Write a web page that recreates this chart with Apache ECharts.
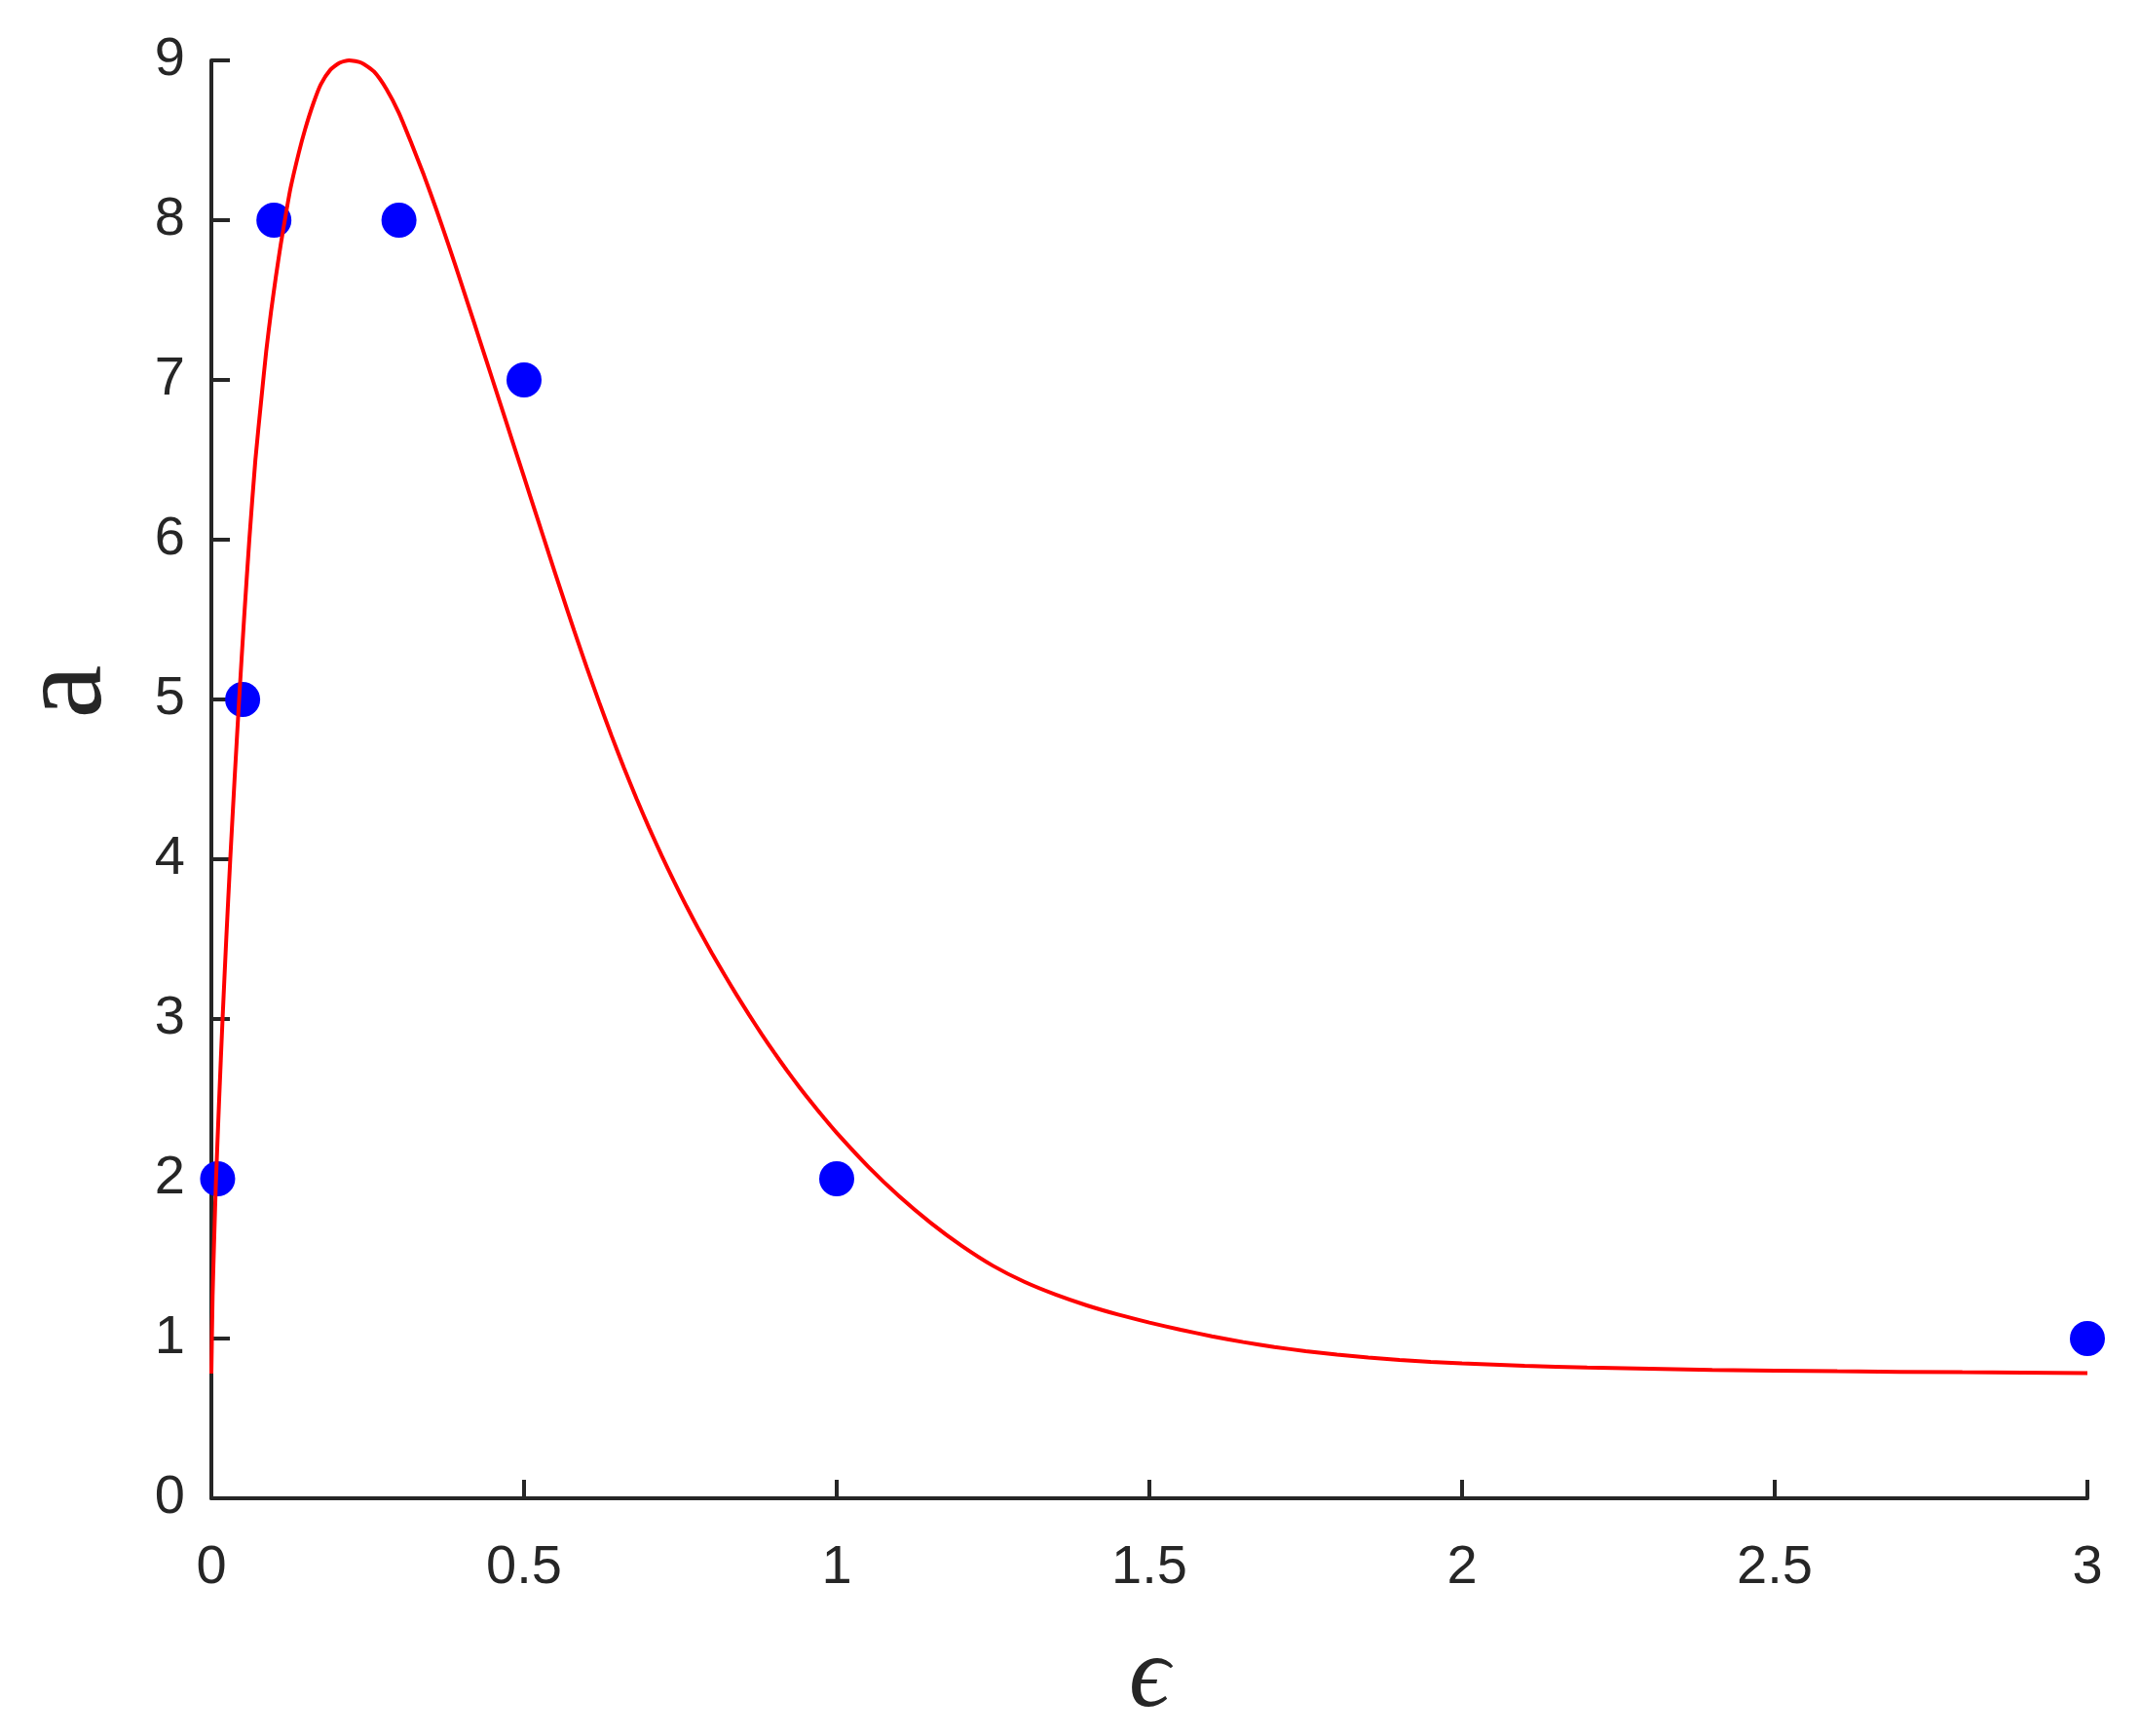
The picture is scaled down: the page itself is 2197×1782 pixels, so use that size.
<!DOCTYPE html>
<html>
<head>
<meta charset="utf-8">
<script src="https://cdn.jsdelivr.net/npm/echarts@6/dist/echarts.min.js"></script>
<style>
html,body{margin:0;padding:0;background:#fff;}
#chart{width:2197px;height:1782px;}
</style>
</head>
<body>
<div id="chart"></div>
<script>
// Measured points (blue markers)
var pointX = [0.01, 0.05, 0.1, 0.3, 0.5, 1, 3];
var pointY = [2, 5, 8, 8, 7, 2, 1];

// Fitted curve (red)
var curveX = [0, 0.002, 0.0047, 0.0073, 0.0125, 0.0179, 0.0238, 0.0302, 0.0371, 0.0444, 0.0522, 0.0607, 0.0704, 0.0799, 0.0877, 0.0955, 0.1033, 0.111, 0.1188, 0.1266, 0.1397, 0.15, 0.163, 0.175, 0.19, 0.205, 0.22, 0.24, 0.26, 0.28, 0.30, 0.32, 0.34, 0.36, 0.38, 0.40, 0.42, 0.44, 0.46, 0.48, 0.50, 0.52, 0.54, 0.56, 0.58, 0.60, 0.62, 0.64, 0.66, 0.68, 0.70, 0.72, 0.74, 0.76, 0.78, 0.80, 0.82, 0.84, 0.86, 0.88, 0.90, 0.92, 0.94, 0.96, 0.98, 1.00, 1.05, 1.10, 1.15, 1.20, 1.25, 1.30, 1.35, 1.40, 1.45, 1.50, 1.55, 1.60, 1.65, 1.70, 1.75, 1.80, 1.85, 1.90, 1.95, 2.0, 2.1, 2.2, 2.4, 2.6, 2.8, 3.0];
var curveY = [0.78, 1.27, 1.65, 1.98, 2.5, 3.0, 3.5, 4.0, 4.5, 5.0, 5.5, 6.0, 6.5, 6.88, 7.18, 7.43, 7.65, 7.85, 8.03, 8.2, 8.42, 8.57, 8.73, 8.85, 8.94, 8.985, 9.0, 8.985, 8.93, 8.82, 8.67, 8.48, 8.28, 8.064, 7.836, 7.600, 7.360, 7.118, 6.876, 6.634, 6.392, 6.150, 5.908, 5.668, 5.432, 5.204, 4.984, 4.772, 4.570, 4.378, 4.196, 4.024, 3.860, 3.704, 3.556, 3.415, 3.280, 3.150, 3.025, 2.905, 2.790, 2.680, 2.575, 2.475, 2.379, 2.287, 2.077, 1.890, 1.725, 1.580, 1.455, 1.355, 1.275, 1.2075, 1.15, 1.10, 1.055, 1.014, 0.978, 0.947, 0.921, 0.899, 0.881, 0.866, 0.854, 0.844, 0.829, 0.818, 0.804, 0.795, 0.789, 0.784];

// Axis settings
var xTicks = [0, 0.5, 1, 1.5, 2, 2.5, 3];
var yTicks = [0, 1, 2, 3, 4, 5, 6, 7, 8, 9];
var xTitle = '\u03F5';
var yTitle = 'a';

var axisColor = '#262626';
var chart = echarts.init(document.getElementById('chart'), null, {renderer: 'canvas'});

function zip(a, b) { return a.map(function (v, i) { return [v, b[i]]; }); }

var option = {
  backgroundColor: '#ffffff',
  animation: false,
  grid: {left: 217, right: 54, top: 62, bottom: 244, containLabel: false, outerBoundsMode: 'none'},
  xAxis: {
    type: 'value',
    min: xTicks[0], max: xTicks[xTicks.length - 1], interval: 0.5,
    axisLine: {show: true, onZero: false, lineStyle: {color: axisColor, width: 4}},
    axisTick: {show: true, inside: true, length: 19, lineStyle: {color: axisColor, width: 4}},
    axisLabel: {color: axisColor, fontSize: 56, fontFamily: 'Liberation Sans, Arial, sans-serif', margin: 44,
      formatter: function (v) { return String(v); }},
    splitLine: {show: false},
    name: xTitle,
    nameLocation: 'middle',
    nameGap: 134,
    nameTextStyle: {color: axisColor, fontSize: 104, fontStyle: 'italic', fontFamily: 'Liberation Serif, DejaVu Serif, serif'}
  },
  yAxis: {
    type: 'value',
    min: yTicks[0], max: yTicks[yTicks.length - 1], interval: 1,
    axisLine: {show: true, onZero: false, lineStyle: {color: axisColor, width: 4}},
    axisTick: {show: true, inside: true, length: 19, lineStyle: {color: axisColor, width: 4}},
    axisLabel: {color: axisColor, fontSize: 56, fontFamily: 'Liberation Sans, Arial, sans-serif', margin: 27},
    splitLine: {show: false}
  },
  graphic: [{
    type: 'text',
    x: 70, y: 710,
    rotation: Math.PI / 2,
    style: {
      text: yTitle,
      fill: axisColor,
      font: '124px "Liberation Serif", "DejaVu Serif", serif',
      align: 'center',
      verticalAlign: 'middle'
    }
  }],
  series: [
    {
      type: 'scatter',
      data: zip(pointX, pointY),
      symbol: 'circle',
      symbolSize: 36,
      itemStyle: {color: '#0000ff', opacity: 1},
      z: 2
    },
    {
      type: 'line',
      data: zip(curveX, curveY),
      showSymbol: false,
      smooth: 0.2,
      lineStyle: {color: '#ff0000', width: 4},
      z: 3
    }
  ]
};
chart.setOption(option);
</script>
</body>
</html>
